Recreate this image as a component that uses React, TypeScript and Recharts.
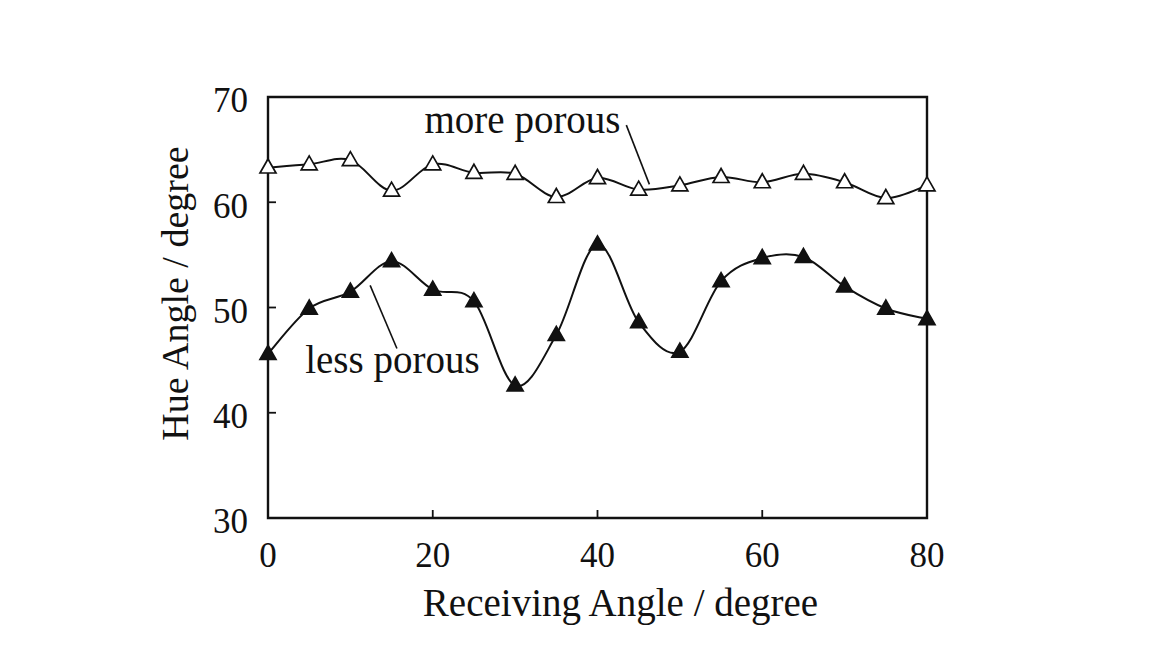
import React from 'react';
import {
  LineChart,
  Line,
  XAxis,
  YAxis,
  ReferenceArea,
  ReferenceLine,
  ReferenceDot,
} from 'recharts';

const angles = [0, 5, 10, 15, 20, 25, 30, 35, 40, 45, 50, 55, 60, 65, 70, 75, 80];
const morePorous = [63.3, 63.6, 64.0, 61.1, 63.6, 62.8, 62.7, 60.5, 62.3, 61.2, 61.6, 62.4, 61.9, 62.7, 61.9, 60.4, 61.6];
const lessPorous = [45.6, 49.9, 51.5, 54.4, 51.7, 50.6, 42.6, 47.4, 56.0, 48.6, 45.8, 52.5, 54.7, 54.8, 52.0, 49.9, 48.9];

const xTicks = [0, 20, 40, 60, 80];
const yTicks = [30, 40, 50, 60, 70];

const data = angles.map((a, i) => ({ angle: a, more: morePorous[i], less: lessPorous[i] }));

const FONT = '"Liberation Serif", "Times New Roman", serif';
const INK = '#111';

// Catmull-Rom style smoothing, close to the spreadsheet "smoothed line" look
function smoothCurve(context: any) {
  let pts: [number, number][] = [];
  return {
    areaStart() {},
    areaEnd() {},
    lineStart() {
      pts = [];
    },
    point(x: number, y: number) {
      pts.push([+x, +y]);
    },
    lineEnd() {
      if (!pts.length) return;
      context.moveTo(pts[0][0], pts[0][1]);
      for (let i = 0; i < pts.length - 1; i++) {
        const p0 = pts[i - 1] || pts[i];
        const p1 = pts[i];
        const p2 = pts[i + 1];
        const p3 = pts[i + 2] || p2;
        context.bezierCurveTo(
          p1[0] + (p2[0] - p0[0]) / 6,
          p1[1] + (p2[1] - p0[1]) / 6,
          p2[0] - (p3[0] - p1[0]) / 6,
          p2[1] - (p3[1] - p1[1]) / 6,
          p2[0],
          p2[1]
        );
      }
    },
  };
}

function Triangle({ cx, cy, filled }: { cx?: number; cy?: number; filled: boolean }) {
  if (cx == null || cy == null) return null;
  const pts = `${cx},${cy - 8.5} ${cx - 8},${cy + 5.5} ${cx + 8},${cy + 5.5}`;
  return (
    <polygon
      points={pts}
      fill={filled ? INK : '#fff'}
      stroke={INK}
      strokeWidth={1.7}
      strokeLinejoin="miter"
    />
  );
}

function XTitle({ viewBox }: any) {
  const { x, y, width } = viewBox;
  return (
    <text x={x + width / 2 + 23} y={y + 98} textAnchor="middle" fontSize={39} fill={INK} fontFamily={FONT}>
      Receiving Angle / degree
    </text>
  );
}

function YTitle({ viewBox }: any) {
  const { x, y, height } = viewBox;
  const cx = x + 30;
  const cy = y + height / 2 - 14;
  return (
    <text
      x={cx}
      y={cy}
      transform={`rotate(-90 ${cx} ${cy})`}
      textAnchor="middle"
      fontSize={38}
      fill={INK}
      fontFamily={FONT}
    >
      Hue Angle / degree
    </text>
  );
}

function Note(text: string) {
  return (props: any) => (
    <text x={props.cx} y={props.cy} textAnchor="middle" fontSize={39} fill={INK} fontFamily={FONT}>
      {text}
    </text>
  );
}

export default function App() {
  return (
    <div style={{ width: 1144, height: 654, background: '#fff' }}>
      <LineChart
        width={1144}
        height={654}
        data={data}
        margin={{ top: 89, right: 225, bottom: 34, left: 150 }}
        style={{ fontFamily: FONT }}
      >
        <XAxis
          dataKey="angle"
          type="number"
          domain={[0, 80]}
          ticks={xTicks}
          height={110}
          axisLine={false}
          tickSize={-8}
          tickMargin={32}
          tickLine={{ stroke: INK, strokeWidth: 1.8 }}
          tick={{ fill: INK, fontSize: 35, fontFamily: FONT }}
          label={{ content: XTitle }}
        />
        <YAxis
          type="number"
          domain={[30, 70]}
          ticks={yTicks}
          width={110}
          axisLine={false}
          tickSize={-8}
          tickMargin={28}
          tickLine={{ stroke: INK, strokeWidth: 1.8 }}
          tick={{ fill: INK, fontSize: 35, fontFamily: FONT, dy: 3 }}
          label={{ content: YTitle }}
        />
        <ReferenceArea x1={0} x2={80} y1={30} y2={70} fill="none" stroke={INK} strokeWidth={2.4} />

        <ReferenceLine
          segment={[{ x: 43.5, y: 67.33 }, { x: 46.3, y: 61.7 }]}
          stroke={INK}
          strokeWidth={1.6}
        />
        <ReferenceLine
          segment={[{ x: 12.4, y: 52.1 }, { x: 15.65, y: 46.1 }]}
          stroke={INK}
          strokeWidth={1.6}
        />
        <ReferenceDot x={30.9} y={66.57} r={0} shape={Note('more porous')} />
        <ReferenceDot x={15.1} y={43.8} r={0} shape={Note('less porous')} />

        <Line
          dataKey="more"
          type={smoothCurve as any}
          stroke={INK}
          strokeWidth={2}
          isAnimationActive={false}
          dot={(p: any) => <Triangle key={`m${p.index}`} cx={p.cx} cy={p.cy} filled={false} />}
          activeDot={false}
        />
        <Line
          dataKey="less"
          type={smoothCurve as any}
          stroke={INK}
          strokeWidth={2}
          isAnimationActive={false}
          dot={(p: any) => <Triangle key={`l${p.index}`} cx={p.cx} cy={p.cy} filled />}
          activeDot={false}
        />
      </LineChart>
    </div>
  );
}
